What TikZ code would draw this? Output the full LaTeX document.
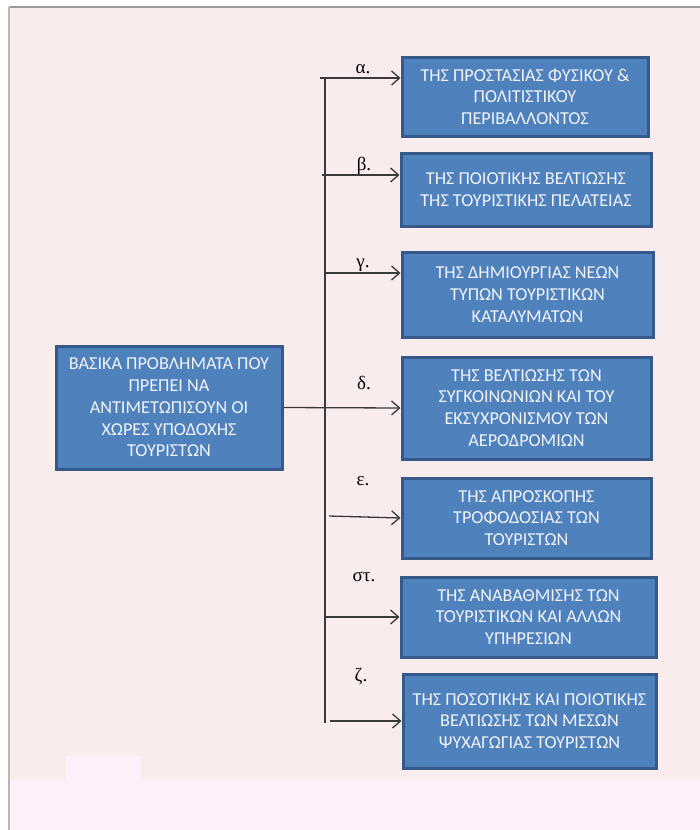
\documentclass[tikz,border=0pt]{standalone}
\usepackage{fontspec}
\setmainfont{Carlito}
\newfontfamily\lblfont{Liberation Serif}
\usepackage{xcolor}
\usepackage{tikz}
\usetikzlibrary{arrows.meta,positioning}

\definecolor{pagepink}{HTML}{F9ECEC}
\definecolor{bandpink}{HTML}{FDF0FB}
\definecolor{probfill}{HTML}{4F81BD}
\definecolor{probedge}{HTML}{34598A}
\definecolor{probtext}{HTML}{F2F4F8}
\definecolor{linegray}{HTML}{3A3A3A}
\definecolor{framegray}{HTML}{9A9A9A}

\begin{document}
\begin{tikzpicture}[
    x=1pt, y=-1pt,
    prob/.style={rectangle, draw=probedge, fill=probfill, line width=3pt, text=probtext, align=center, inner sep=0pt, font=\fontsize{18.2}{21.7}\selectfont},
    arrow/.style={-{Straight Barb[length=8pt,width=14pt]}, draw=linegray, line width=1.3pt},
    trunk/.style={draw=linegray, line width=1.3pt},
    lbl/.style={font=\lblfont\fontsize{19}{22}\selectfont, text=black},
]

% Page background and frame
\useasboundingbox (0,0) rectangle (700,830);
\fill[white] (0,0) rectangle (700,830);
\fill[pagepink] (10,8) rectangle (700,780);
\fill[bandpink] (10,780) rectangle (700,830);
\fill[bandpink] (66,756) rectangle (141,780);
\draw[framegray, line width=1.5pt] (9,7) -- (700,7);
\draw[framegray!70, line width=1.5pt] (9,7) -- (9,830);

% Main problem box
\node[prob, minimum width=226pt, minimum height=123pt] (main) at (169,407.5) {ΒΑΣΙΚΑ ΠΡΟΒΛΗΜΑΤΑ ΠΟΥ\\ΠΡΕΠΕΙ ΝΑ\\ΑΝΤΙΜΕΤΩΠΙΣΟΥΝ ΟΙ\\ΧΩΡΕΣ ΥΠΟΔΟΧΗΣ\\ΤΟΥΡΙΣΤΩΝ};

% Individual problems
\node[prob, minimum width=246pt, minimum height=79pt] (alpha) at (525,96.5) {ΤΗΣ ΠΡΟΣΤΑΣΙΑΣ ΦΥΣΙΚΟΥ \&\\ΠΟΛΙΤΙΣΤΙΚΟΥ\\ΠΕΡΙΒΑΛΛΟΝΤΟΣ};
\node[prob, minimum width=250pt, minimum height=73pt] (beta) at (526,189.5) {ΤΗΣ ΠΟΙΟΤΙΚΗΣ ΒΕΛΤΙΩΣΗΣ\\ΤΗΣ ΤΟΥΡΙΣΤΙΚΗΣ ΠΕΛΑΤΕΙΑΣ};
\node[prob, minimum width=251pt, minimum height=85pt] (gamma) at (527.5,294.5) {ΤΗΣ ΔΗΜΙΟΥΡΓΙΑΣ ΝΕΩΝ\\ΤΥΠΩΝ ΤΟΥΡΙΣΤΙΚΩΝ\\ΚΑΤΑΛΥΜΑΤΩΝ};
\node[prob, minimum width=249pt, minimum height=102pt] (delta) at (526.5,408) {ΤΗΣ ΒΕΛΤΙΩΣΗΣ ΤΩΝ\\ΣΥΓΚΟΙΝΩΝΙΩΝ ΚΑΙ ΤΟΥ\\ΕΚΣΥΧΡΟΝΙΣΜΟΥ ΤΩΝ\\ΑΕΡΟΔΡΟΜΙΩΝ};
\node[prob, minimum width=249pt, minimum height=80pt] (eps) at (526.5,518) {ΤΗΣ ΑΠΡΟΣΚΟΠΗΣ\\ΤΡΟΦΟΔΟΣΙΑΣ ΤΩΝ\\ΤΟΥΡΙΣΤΩΝ};
\node[prob, minimum width=255pt, minimum height=80pt] (stig) at (528.5,617) {ΤΗΣ ΑΝΑΒΑΘΜΙΣΗΣ ΤΩΝ\\ΤΟΥΡΙΣΤΙΚΩΝ ΚΑΙ ΑΛΛΩΝ\\ΥΠΗΡΕΣΙΩΝ};
\node[prob, minimum width=253pt, minimum height=94pt] (zeta) at (529.5,721) {ΤΗΣ ΠΟΣΟΤΙΚΗΣ ΚΑΙ ΠΟΙΟΤΙΚΗΣ\\ΒΕΛΤΙΩΣΗΣ ΤΩΝ ΜΕΣΩΝ\\ΨΥΧΑΓΩΓΙΑΣ ΤΟΥΡΙΣΤΩΝ};

% Trunk and branch starts
\coordinate (trunktop) at (325,79);
\coordinate (trunkbot) at (325,723);
\coordinate (ta) at (320,78);
\coordinate (tb) at (322,175);
\coordinate (tg) at (325,273);
\coordinate (te) at (329,516);
\coordinate (ts) at (325,617);
\coordinate (tz) at (330,721);

\draw[trunk] (trunktop) -- (trunkbot);
\draw[arrow] (main.east) -- (delta.west);
\draw[arrow] (ta) -- (ta -| alpha.west);
\draw[arrow] (tb) -- (tb -| beta.west);
\draw[arrow] (tg) -- (tg -| gamma.west);
\draw[arrow] (te) -- (eps.west);
\draw[arrow] (ts) -- (ts -| stig.west);
\draw[arrow] (tz) -- (tz -| zeta.west);

% Branch letters
\node[lbl] (la) at (363,69) {α.};
\node[lbl] (lb) at (364,166) {β.};
\node[lbl] (lg) at (363,265) {γ.};
\node[lbl] (ld) at (364,383) {δ.};
\node[lbl] (le) at (363,481) {ε.};
\node[lbl] (ls) at (364,577) {στ.};
\node[lbl] (lz) at (361,676) {ζ.};

\end{tikzpicture}
\end{document}
